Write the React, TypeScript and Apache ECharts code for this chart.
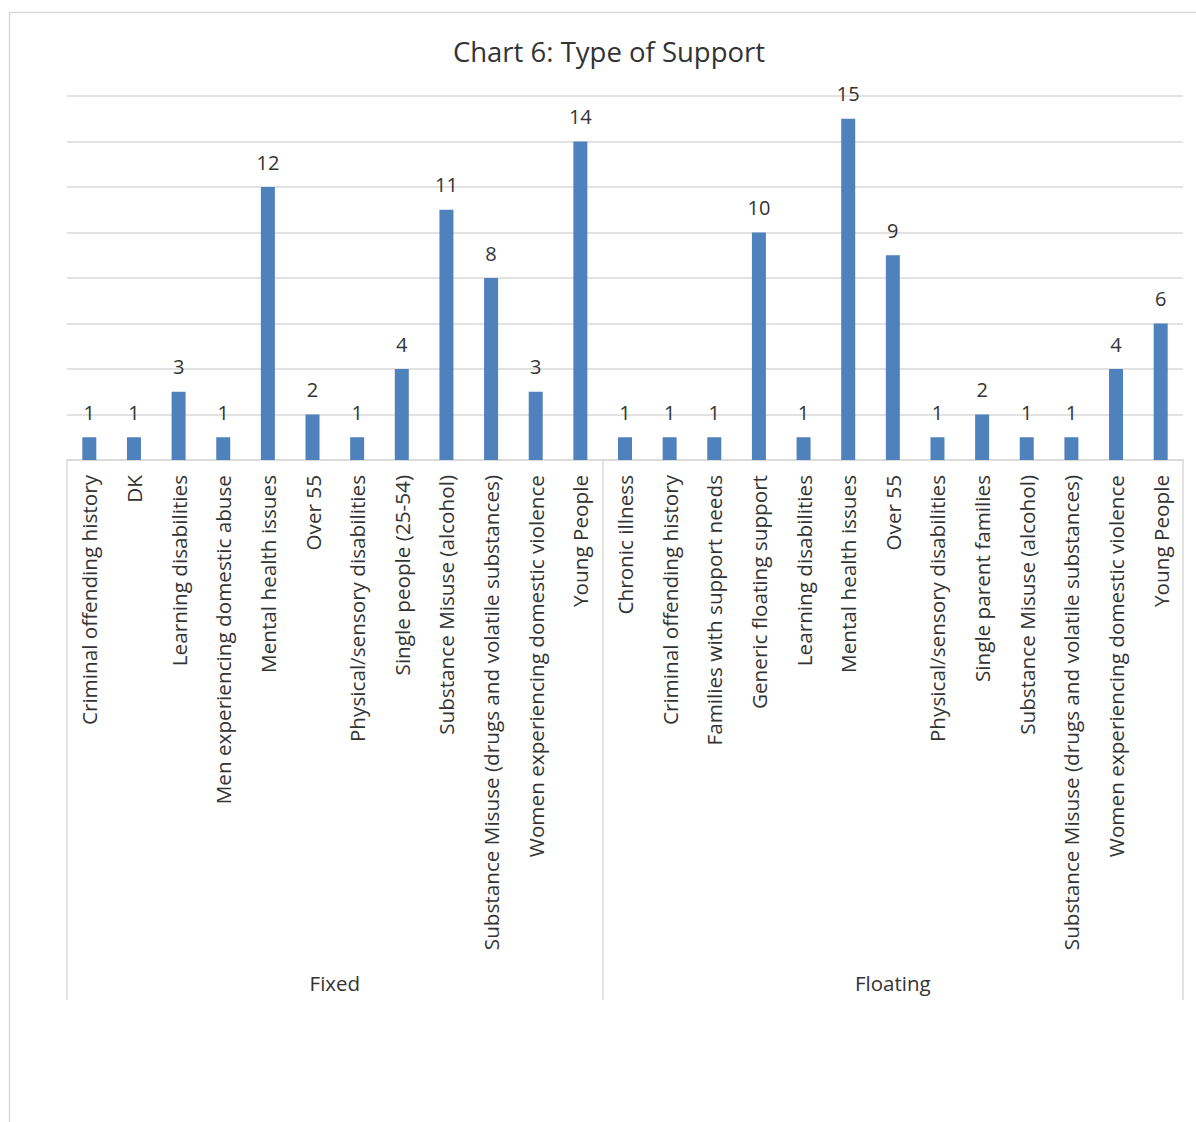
import React, { useEffect, useRef } from "react";
import * as echarts from "echarts";

// Support types, grouped by scheme (Fixed first, then Floating)
const fixedCategories = [
  "Criminal offending history",
  "DK",
  "Learning disabilities",
  "Men experiencing domestic abuse",
  "Mental health issues",
  "Over 55",
  "Physical/sensory disabilities",
  "Single people (25-54)",
  "Substance Misuse (alcohol)",
  "Substance Misuse (drugs and volatile substances)",
  "Women experiencing domestic violence",
  "Young People",
];
const fixedValues = [1, 1, 3, 1, 12, 2, 1, 4, 11, 8, 3, 14];

const floatingCategories = [
  "Chronic illness",
  "Criminal offending history",
  "Families with support needs",
  "Generic floating support",
  "Learning disabilities",
  "Mental health issues",
  "Over 55",
  "Physical/sensory disabilities",
  "Single parent families",
  "Substance Misuse (alcohol)",
  "Substance Misuse (drugs and volatile substances)",
  "Women experiencing domestic violence",
  "Young People",
];
const floatingValues = [1, 1, 1, 10, 1, 15, 9, 1, 2, 1, 1, 4, 6];

const groupNames = ["Fixed", "Floating"];

const FONT = "'Open Sans', 'Noto Sans', sans-serif";
const TEXT = "#333333";
const LINE = "#d9d9d9";

export default function App() {
  const ref = useRef<HTMLDivElement>(null);

  useEffect(() => {
    if (!ref.current) return;
    const chart = echarts.init(ref.current, undefined, { renderer: "svg" });

    const categories = [...fixedCategories, ...floatingCategories];
    const values = [...fixedValues, ...floatingValues];
    const nFixed = fixedCategories.length;
    const nAll = categories.length;
    // group boundaries and centres on a 0..nAll scale
    const boundaries = [0, nFixed, nAll];
    const centres = [nFixed / 2, nFixed + (nAll - nFixed) / 2];

    chart.setOption({
      animation: false,
      backgroundColor: "#ffffff",
      textStyle: { fontFamily: FONT },
      title: {
        text: "Chart 6: Type of Support",
        left: 604,
        top: 32,
        textAlign: "center",
        textStyle: {
          fontFamily: FONT,
          fontSize: 27.5,
          fontWeight: "normal",
          color: TEXT,
        },
      },
      graphic: [
        {
          type: "rect",
          shape: { x: 9.5, y: 12.5, width: 1300, height: 1300 },
          style: { fill: "none", stroke: LINE, lineWidth: 1.5 },
          silent: true,
        },
      ],
      grid: {
        left: 67,
        right: 13,
        top: 96,
        bottom: 1122 - 460,
        containLabel: false,
        outerBoundsMode: "none",
      },
      xAxis: [
        {
          type: "category",
          data: categories,
          axisLine: { show: true, lineStyle: { color: LINE, width: 1.5 } },
          axisTick: { show: false },
          axisLabel: {
            interval: 0,
            rotate: 90,
            margin: 15,
            fontFamily: FONT,
            fontSize: 20.7,
            color: TEXT,
          },
          splitLine: { show: false },
        },
        {
          type: "value",
          position: "bottom",
          min: 0,
          max: nAll,
          axisLine: { show: false },
          splitLine: { show: false },
          axisTick: {
            show: true,
            customValues: boundaries,
            length: 540,
            lineStyle: { color: LINE, width: 1.5 },
          },
          axisLabel: {
            show: true,
            customValues: centres,
            margin: 512,
            fontFamily: FONT,
            fontSize: 20.5,
            color: TEXT,
            formatter: (v: number) =>
              v === centres[0] ? groupNames[0] : groupNames[1],
          },
        },
      ],
      yAxis: {
        type: "value",
        min: 0,
        max: 16,
        interval: 2,
        axisLine: { show: false },
        axisTick: { show: false },
        axisLabel: { show: false },
        splitLine: { lineStyle: { color: LINE, width: 1.5 } },
      },
      series: [
        {
          type: "bar",
          xAxisIndex: 0,
          yAxisIndex: 0,
          data: values,
          barWidth: 14,
          itemStyle: { color: "#4f81bd" },
          label: {
            show: true,
            position: "top",
            distance: 15,
            fontFamily: FONT,
            fontSize: 20,
            color: TEXT,
          },
        },
      ],
    });

    return () => chart.dispose();
  }, []);

  return (
    <div
      ref={ref}
      style={{ position: "absolute", left: 0, top: 0, width: 1196, height: 1122 }}
    />
  );
}
